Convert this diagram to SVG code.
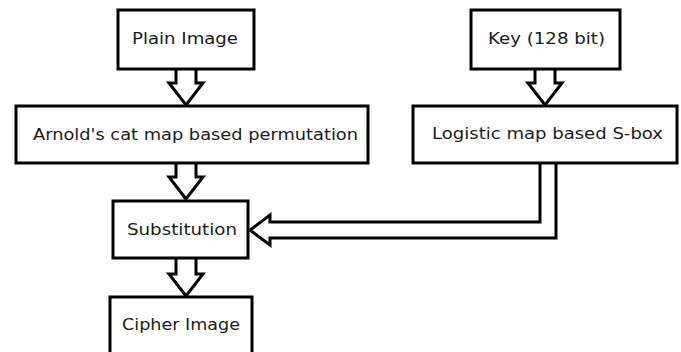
<svg xmlns="http://www.w3.org/2000/svg" width="681" height="352" viewBox="0 0 681 352">
<style>
.box{fill:#fff;stroke:#000;stroke-width:3}
.arr{fill:#fff;stroke:#000;stroke-width:3;stroke-linejoin:miter}
text{font-family:"DejaVu Sans",Verdana,sans-serif;font-size:16.5px;fill:#1a1a1a;text-anchor:middle}
</style>
<rect width="681" height="352" fill="#fff"/>
<g id="connectors">
<path class="arr" d="M176 69 V83 H169 L186 105 L203 83 H196 V69"/>
<path class="arr" d="M535 69 V83 H528 L545 105 L562 83 H555 V69"/>
<path class="arr" d="M176 163 V177 H169 L186 199 L203 177 H196 V163"/>
<path class="arr" d="M176 258 V274 H169 L186 296 L203 274 H196 V258"/>
<path class="arr" d="M540 163 V222 H270 V215 L250 230 L270 245 V238 H556 V163"/>
</g>
<g id="plain"><rect class="box" x="118" y="10" width="136" height="59"/><text x="185" y="44" textLength="106" lengthAdjust="spacingAndGlyphs">Plain Image</text></g>
<g id="key"><rect class="box" x="471" y="10" width="149" height="59"/><text x="546.5" y="44" textLength="117" lengthAdjust="spacingAndGlyphs">Key (128 bit)</text></g>
<g id="arnold"><rect class="box" x="16" y="106" width="352" height="57"/><text x="195.5" y="140" textLength="325" lengthAdjust="spacingAndGlyphs">Arnold's cat map based permutation</text></g>
<g id="logistic"><rect class="box" x="413" y="106" width="264" height="57"/><text x="547.5" y="139" textLength="231" lengthAdjust="spacingAndGlyphs">Logistic map based S-box</text></g>
<g id="substitution"><rect class="box" x="113" y="201" width="135" height="57"/><text x="182" y="235" textLength="110" lengthAdjust="spacingAndGlyphs">Substitution</text></g>
<g id="cipher"><rect class="box" x="110" y="297" width="142" height="60"/><text x="181" y="330" textLength="118" lengthAdjust="spacingAndGlyphs">Cipher Image</text></g>
</svg>
